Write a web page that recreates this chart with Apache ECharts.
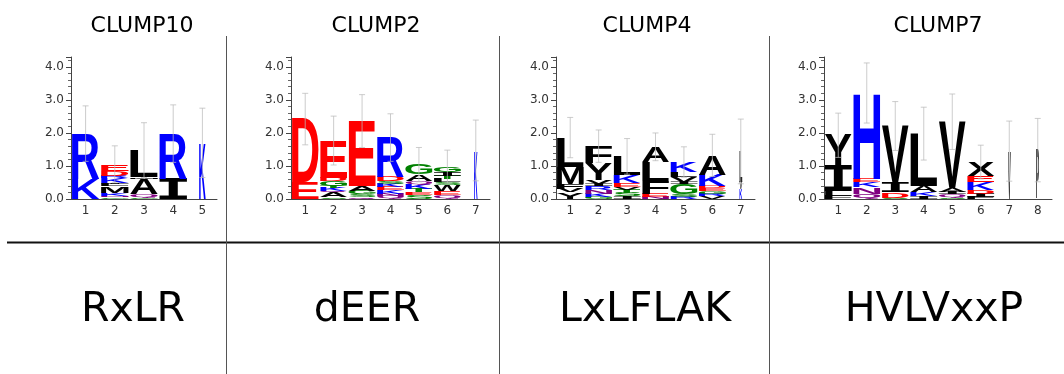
<!DOCTYPE html>
<html>
<head>
<meta charset="utf-8">
<script src="https://cdn.jsdelivr.net/npm/echarts@6/dist/echarts.min.js"></script>
<style>
  html, body { margin: 0; padding: 0; background: #fff; }
  #main { width: 1064px; height: 374px; }
</style>
</head>
<body>
<div id="main"></div>
<script>
// panel titles and consensus motifs
const clumpNames = ["CLUMP10", "CLUMP2", "CLUMP4", "CLUMP7"];
const motifs = ["RxLR", "dEER", "LxLFLAK", "HVLVxxP"];
const yTicks = [0, 1, 2, 3, 4];

// each column: letters bottom -> top, with their heights (bits)
const clump10Letters = ["KR", "GNKMLIKRDE", "GQAML", "IR", "K"];
const clump10Heights = [
  [0.61, 1.37],
  [0.05, 0.05, 0.08, 0.2, 0.06, 0.05, 0.14, 0.08, 0.14, 0.2],
  [0.05, 0.1, 0.46, 0.05, 0.82],
  [0.61, 1.37],
  [1.7],
];
const clump10Widths = [1, 1, 1, 1, 0.24];
const clump10Err = [0.84, 0.56, 0.83, 0.87, 1.05];

const clump2Letters = ["ED", "SAQKTGDE", "QSGAE", "QNKEKSDR", "SETKQAG", "QEWSLTIG", "K"];
const clump2Heights = [
  [0.5, 1.92],
  [0.05, 0.15, 0.04, 0.1, 0.06, 0.15, 0.1, 1.12],
  [0.06, 0.08, 0.1, 0.15, 1.97],
  [0.08, 0.08, 0.1, 0.1, 0.1, 0.08, 0.14, 1.18],
  [0.12, 0.08, 0.1, 0.14, 0.1, 0.2, 0.3],
  [0.12, 0.12, 0.18, 0.08, 0.1, 0.1, 0.12, 0.16],
  [1.47],
];
const clump2Widths = [1, 1, 1, 1, 1, 1, 0.13];
const clump2Err = [0.78, 0.74, 0.8, 0.72, 0.52, 0.5, 0.92];

const clump4Letters = ["YVFML", "GKNRIVYF", "ISTVEKL", "NEFLA", "RSGIVLK", "VRGEDKA", "KVL"];
const clump4Heights = [
  [0.2, 0.1, 0.16, 0.52, 0.88],
  [0.06, 0.1, 0.1, 0.12, 0.08, 0.12, 0.5, 0.52],
  [0.08, 0.1, 0.1, 0.08, 0.12, 0.25, 0.56],
  [0.06, 0.1, 0.38, 0.58, 0.46],
  [0.06, 0.08, 0.3, 0.06, 0.16, 0.16, 0.3],
  [0.08, 0.08, 0.08, 0.08, 0.08, 0.34, 0.58],
  [0.3, 0.22, 0.92],
];
const clump4Widths = [1, 1, 1, 1, 1, 1, 0.1];
const clump4Err = [0.61, 0.49, 0.54, 0.42, 0.46, 0.64, 0.98];

const clump7Letters = ["FLIY", "QNKEH", "SDIV", "IKAL", "SQIAV", "FIDKEX", "V", "P"];
const clump7Heights = [
  [0.1, 0.15, 0.77, 0.91],
  [0.15, 0.2, 0.15, 0.1, 2.61],
  [0.03, 0.17, 0.3, 1.71],
  [0.08, 0.12, 0.2, 1.58],
  [0.04, 0.1, 0.08, 0.12, 2.0],
  [0.06, 0.1, 0.12, 0.22, 0.2, 0.42],
  [1.45],
  [1.48],
];
const clump7Widths = [1, 1, 1, 1, 1, 1, 0.1, 0.1];
const clump7Err = [0.67, 0.91, 0.74, 0.8, 0.84, 0.51, 0.91, 0.96];

const panels = [
  { letters: clump10Letters, heights: clump10Heights, widths: clump10Widths, err: clump10Err },
  { letters: clump2Letters, heights: clump2Heights, widths: clump2Widths, err: clump2Err },
  { letters: clump4Letters, heights: clump4Heights, widths: clump4Widths, err: clump4Err },
  { letters: clump7Letters, heights: clump7Heights, widths: clump7Widths, err: clump7Err },
];

// layout
const gridBoxes = [
  { left: 71, width: 146 },
  { left: 291, width: 199 },
  { left: 556, width: 199 },
  { left: 824, width: 228 },
];
const titleX = [137, 371, 642, 933];
const motifX = [128, 362, 640, 929];
const dividerX = [226, 499, 769];

const colorOf = (ch) => {
  if ("KRH".includes(ch)) return "#0000ff";
  if ("DE".includes(ch)) return "#ff0000";
  if ("GSTC".includes(ch)) return "#008000";
  if ("NQ".includes(ch)) return "#800080";
  return "#000000";
};

// "I" needs serifs, otherwise the stretched glyph is just a block
const fontOf = (ch) => (ch === "I" ? 'bold 100px "DejaVu Sans Mono"' : 'bold 100px "Liberation Sans"');
const measureCtx = document.createElement("canvas").getContext("2d");
const metricCache = {};
function glyphBox(ch) {
  if (!metricCache[ch]) {
    measureCtx.font = fontOf(ch);
    measureCtx.textAlign = "center";
    measureCtx.textBaseline = "middle";
    const m = measureCtx.measureText(ch);
    metricCache[ch] = {
      l: m.actualBoundingBoxLeft, r: m.actualBoundingBoxRight,
      a: m.actualBoundingBoxAscent, d: m.actualBoundingBoxDescent,
    };
  }
  return metricCache[ch];
}

const grid = [], xAxis = [], yAxis = [], series = [];

panels.forEach((p, i) => {
  grid.push({ left: gridBoxes[i].left, width: gridBoxes[i].width, top: 57, height: 142 });
  xAxis.push({
    type: "category", gridIndex: i,
    data: p.letters.map((_, k) => String(k + 1)),
    axisLine: { lineStyle: { color: "#444", width: 1 } },
    axisTick: { alignWithLabel: true, length: 4, lineStyle: { color: "#444" } },
    axisLabel: { color: "#333", fontSize: 12, fontFamily: "DejaVu Sans", margin: 6 },
  });
  yAxis.push({
    type: "value", gridIndex: i, min: 0, max: 4.3, interval: 1,
    splitLine: { show: false },
    axisLine: { show: true, lineStyle: { color: "#444", width: 1 } },
    axisTick: { show: true, length: 5, lineStyle: { color: "#444" } },
    minorTick: { show: true, splitNumber: 5, length: 3, lineStyle: { color: "#666" } },
    axisLabel: {
      color: "#333", fontSize: 12, fontFamily: "DejaVu Sans", margin: 7,
      formatter: (v) => (yTicks.includes(v) ? v.toFixed(1) : ""),
    },
  });

  // flatten stacks into letter boxes
  const boxes = [];
  const tops = [];
  p.letters.forEach((str, col) => {
    let y = 0;
    str.split("").forEach((ch, k) => {
      const h = p.heights[col][k];
      boxes.push({ col, ch, y0: y, y1: y + h, w: p.widths[col] });
      y += h;
    });
    tops.push(y);
  });

  series.push({
    type: "custom", xAxisIndex: i, yAxisIndex: i, z: 2,
    data: boxes.map((b) => [b.col, b.y0, b.y1]),
    renderItem: (params, api) => {
      const b = boxes[params.dataIndex];
      const band = api.size([1, 0])[0];
      const cx = api.coord([b.col, 0])[0];
      const yTop = api.coord([b.col, b.y1])[1];
      const yBot = api.coord([b.col, b.y0])[1];
      const w = band * 0.95 * b.w;
      const h = yBot - yTop;
      const g = glyphBox(b.ch);
      const sx = w / (g.l + g.r);
      const sy = h / (g.a + g.d);
      return {
        type: "text",
        x: cx - w / 2 + sx * g.l,
        y: yTop + sy * g.a,
        scaleX: sx, scaleY: sy,
        style: {
          text: b.ch, x: 0, y: 0, font: fontOf(b.ch),
          fill: colorOf(b.ch), align: "center", verticalAlign: "middle",
        },
      };
    },
  });

  series.push({
    type: "custom", xAxisIndex: i, yAxisIndex: i, z: 3,
    data: tops.map((t, col) => [col, t - p.err[col], t + p.err[col]]),
    renderItem: (params, api) => {
      const lo = api.coord([api.value(0), api.value(1)]);
      const hi = api.coord([api.value(0), api.value(2)]);
      const st = { stroke: "#bbbbbb", lineWidth: 1, opacity: 0.75 };
      return {
        type: "group",
        children: [
          { type: "line", shape: { x1: lo[0], y1: lo[1], x2: hi[0], y2: hi[1] }, style: st },
          { type: "line", shape: { x1: hi[0] - 3, y1: hi[1], x2: hi[0] + 3, y2: hi[1] }, style: st },
          { type: "line", shape: { x1: lo[0] - 3, y1: lo[1], x2: lo[0] + 3, y2: lo[1] }, style: st },
        ],
      };
    },
  });
});

const title = [];
clumpNames.forEach((name, i) => {
  title.push({
    text: name, left: titleX[i], top: 10, textAlign: "center",
    textStyle: { fontFamily: "DejaVu Sans", fontWeight: "normal", fontSize: 22, color: "#000" },
  });
  title.push({
    text: motifs[i], left: motifX[i], top: 285, textAlign: "center",
    textStyle: { fontFamily: "DejaVu Sans", fontWeight: "normal", fontSize: 41, color: "#000" },
  });
});

const graphic = [
  { type: "line", shape: { x1: 7, y1: 242.5, x2: 1064, y2: 242.5 }, style: { stroke: "#111", lineWidth: 2 } },
].concat(dividerX.map((x) => ({
  type: "line", shape: { x1: x + 0.5, y1: 36, x2: x + 0.5, y2: 374 }, style: { stroke: "#555", lineWidth: 1 },
})));

const chart = echarts.init(document.getElementById("main"), null, { renderer: "canvas" });
chart.setOption({
  animation: false,
  backgroundColor: "#fff",
  title, grid, xAxis, yAxis, series, graphic,
});
</script>
</body>
</html>
